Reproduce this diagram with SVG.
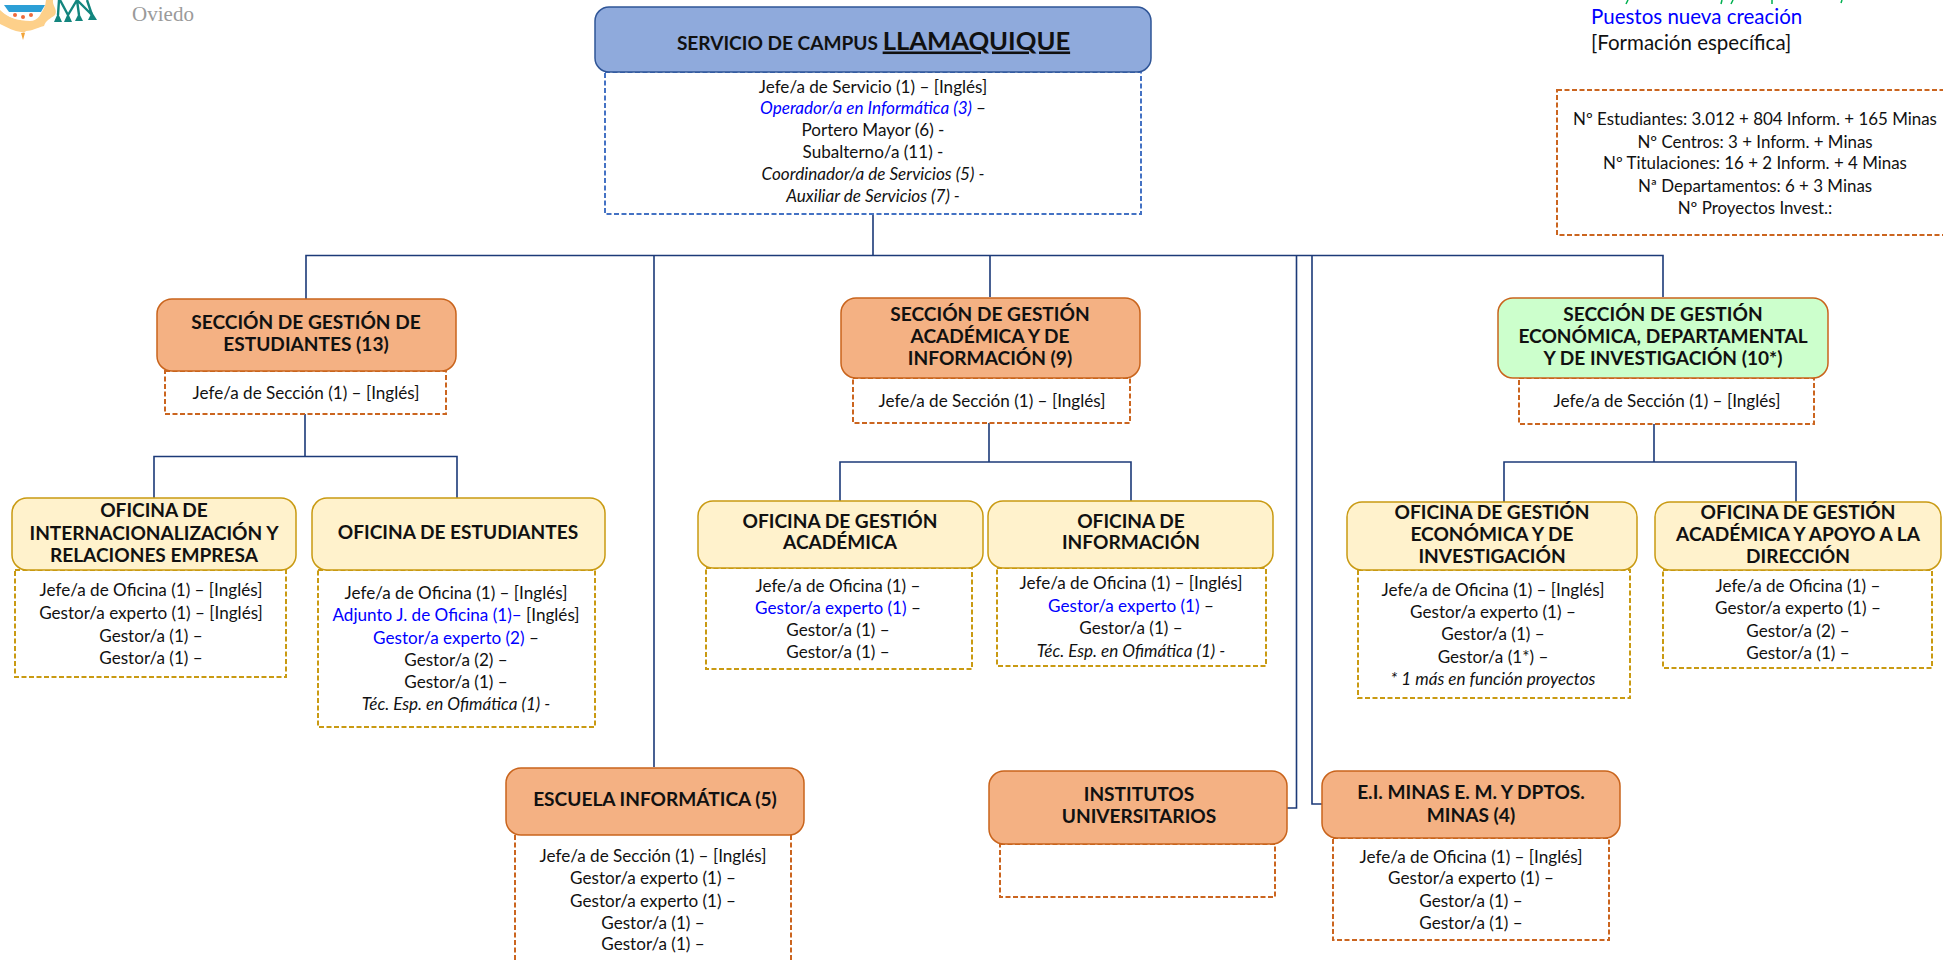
<svg xmlns="http://www.w3.org/2000/svg" width="1943" height="962" viewBox="0 0 1943 962">
<style>
text{font-family:Lato,"Liberation Sans",sans-serif;fill:#111;text-anchor:middle}
.b{font-size:17.1px}
.t{font-size:19.1px;font-weight:700}
.bl{fill:#0000ff}
.i{font-style:italic}
.c{fill:none;stroke:#1c3a78;stroke-width:1.6}
.d{fill:#fff;stroke-width:2;stroke-dasharray:5 2.5}
.dB{stroke:#4472c4}.dO{stroke:#cb651f}.dG{stroke:#c99a12}
.hM{fill:#8faadc;stroke:#2f5597;stroke-width:1.5}
.hS{fill:#f4b183;stroke:#c9641c;stroke-width:1.5}
.hV{fill:#ccffcc;stroke:#c9641c;stroke-width:1.5}
.hO{fill:#fff2cc;stroke:#c99a12;stroke-width:1.5}
</style>
<rect width="1943" height="962" fill="#fff"/>
<g id="logo">
<path d="M0 10 C8 17 18 21 30 21 C38 21 42 15 45 0 L53 0 C52 6 58 9 55 15 C50 19 46 20 44 26 C36 28 32 31 26 31 L24 33 L21 32 C14 31 8 28 0 24Z" fill="#fdd08a"/>
<path d="M0 0H46C45 12 38 19 24 20C13 20 4 15 0 9Z" fill="#fff"/>
<path d="M4 5H45L41 12H9Z" fill="#2c9fd6"/>
<circle cx="15" cy="15" r="2" fill="#ee6a3b"/><circle cx="23" cy="17" r="2" fill="#ee6a3b"/><circle cx="31" cy="15" r="2" fill="#ee6a3b"/>
<path d="M21 33H25L23 40Z" fill="#f2a53a"/>
<path d="M59 0L58 15M60 0L68 15M68 15L77 0M77 0L79 15M77 0L92 15M87 0L92 15" stroke="#13857e" stroke-width="2.4" fill="none"/>
<path d="M58 13L62 22H54ZM68 13L72 22H64ZM79 13L83 21H75ZM92 12L97 20H88Z" fill="#13857e"/>
<text x="163" y="21" style="font-family:'Liberation Serif',serif;font-size:21px;fill:#9a9a9a">Oviedo</text>
</g>
<g id="connectors" class="c">
<path class="c" d="M873 214V255.5M306 299V255.5H1663V297M654 255.5V767M990 255.5V297M1296.5 255.5V808H1287M1312 255.5V804H1322"/>
<path class="c" d="M305 414V456.5M154 498V456.5H457V498"/>
<path class="c" d="M989 423V462M840 501V462H1131V501"/>
<path class="c" d="M1654 424V462M1504 502V462H1796V502"/>
</g>
<g id="legend">
<path d="M1628 0l-2 4M1722 0l-1 4M1733 0l-2 4M1772 0v4M1842 0l-1 3" stroke="#00b050" stroke-width="1.5" fill="none"/>
<text x="1591" y="24" style="text-anchor:start;font-size:20.5px;fill:#0000ff">Puestos nueva creación</text>
<text x="1591" y="50" style="text-anchor:start;font-size:20.5px">[Formación específica]</text>
</g>
<g id="stats">
<rect class="d dO" x="1557" y="90" width="400" height="145"/>
<text class="b" x="1755" y="125" style="font-size:16.9px">Nº Estudiantes: 3.012 + 804 Inform. + 165 Minas</text>
<text class="b" x="1755" y="148" style="font-size:16.9px">Nº Centros: 3 + Inform. +  Minas</text>
<text class="b" x="1755" y="169" style="font-size:16.9px">Nº Titulaciones: 16 + 2 Inform. + 4 Minas</text>
<text class="b" x="1755" y="192" style="font-size:16.9px">Nª Departamentos: 6 + 3 Minas</text>
<text class="b" x="1755" y="214" style="font-size:16.9px">Nº Proyectos Invest.:</text>
</g>
<g id="servicio">
<rect class="d dB" x="605" y="72" width="536" height="142"/>
<rect class="hM" x="595" y="7" width="556" height="65" rx="14"/>
<text x="873.5" y="49.5" style="font-weight:700;font-size:19.1px">SERVICIO DE CAMPUS <tspan style="font-size:25.6px;text-decoration:underline">LLAMAQUIQUE</tspan></text>
<text class="b" x="873" y="93">Jefe/a de Servicio (1) – [Inglés]</text>
<text class="b" x="873" y="114"><tspan class="bl i">Operador/a en Informática (3) </tspan>–</text>
<text class="b" x="873" y="136">Portero Mayor (6) -</text>
<text class="b" x="873" y="158">Subalterno/a (11) -</text>
<text class="b i" x="873" y="180">Coordinador/a de Servicios (5) -</text>
<text class="b i" x="873" y="202">Auxiliar de Servicios (7) -</text>
</g>
<g id="sec-estudiantes">
<rect class="d dO" x="165" y="371" width="281" height="43"/>
<rect class="hS" x="157" y="299" width="299" height="72" rx="15"/>
<text class="t" x="306" y="329">SECCIÓN DE GESTIÓN DE</text>
<text class="t" x="306" y="351">ESTUDIANTES (13)</text>
<text class="b" x="306" y="399">Jefe/a de Sección (1) – [Inglés]</text>
</g>
<g id="of-internacional">
<rect class="d dG" x="15" y="570" width="271" height="107"/>
<rect class="hO" x="12" y="498" width="284" height="72" rx="15"/>
<text class="t" x="154" y="517">OFICINA DE</text>
<text class="t" x="154" y="540">INTERNACIONALIZACIÓN Y</text>
<text class="t" x="154" y="562">RELACIONES EMPRESA</text>
<text class="b" x="151" y="596">Jefe/a de Oficina (1) – [Inglés]</text>
<text class="b" x="151" y="619">Gestor/a experto (1) – [Inglés]</text>
<text class="b" x="151" y="642">Gestor/a (1) –</text>
<text class="b" x="151" y="664">Gestor/a (1) –</text>
</g>
<g id="of-estudiantes">
<rect class="d dG" x="318" y="570" width="277" height="157"/>
<rect class="hO" x="312" y="498" width="293" height="72" rx="15"/>
<text class="t" x="458" y="539">OFICINA DE ESTUDIANTES</text>
<text class="b" x="456" y="599">Jefe/a de Oficina (1) – [Inglés]</text>
<text class="b" x="456" y="621"><tspan class="bl">Adjunto J. de Oficina (1)– </tspan>[Inglés]</text>
<text class="b" x="456" y="644"><tspan class="bl">Gestor/a experto (2) </tspan>–</text>
<text class="b" x="456" y="666">Gestor/a (2) –</text>
<text class="b" x="456" y="688">Gestor/a (1) –</text>
<text class="b i" x="456" y="710">Téc. Esp. en Ofimática (1) -</text>
</g>
<g id="sec-academica">
<rect class="d dO" x="853" y="378" width="277" height="45"/>
<rect class="hS" x="841" y="298" width="299" height="80" rx="15"/>
<text class="t" x="990" y="321">SECCIÓN DE GESTIÓN</text>
<text class="t" x="990" y="343">ACADÉMICA Y DE</text>
<text class="t" x="990" y="365">INFORMACIÓN (9)</text>
<text class="b" x="992" y="407">Jefe/a de Sección (1) – [Inglés]</text>
</g>
<g id="of-academica">
<rect class="d dG" x="706" y="568" width="266" height="101"/>
<rect class="hO" x="698" y="501" width="285" height="67" rx="15"/>
<text class="t" x="840" y="528">OFICINA DE GESTIÓN</text>
<text class="t" x="840" y="549">ACADÉMICA</text>
<text class="b" x="838" y="592">Jefe/a de Oficina (1) –</text>
<text class="b" x="838" y="614"><tspan class="bl">Gestor/a experto (1) </tspan>–</text>
<text class="b" x="838" y="636">Gestor/a (1) –</text>
<text class="b" x="838" y="658">Gestor/a (1) –</text>
</g>
<g id="of-informacion">
<rect class="d dG" x="997" y="568" width="269" height="98"/>
<rect class="hO" x="988" y="501" width="285" height="67" rx="15"/>
<text class="t" x="1131" y="528">OFICINA DE</text>
<text class="t" x="1131" y="549">INFORMACIÓN</text>
<text class="b" x="1131" y="589">Jefe/a de Oficina (1) – [Inglés]</text>
<text class="b" x="1131" y="612"><tspan class="bl">Gestor/a experto (1) </tspan>–</text>
<text class="b" x="1131" y="634">Gestor/a (1) –</text>
<text class="b i" x="1131" y="657">Téc. Esp. en Ofimática (1) -</text>
</g>
<g id="sec-economica">
<rect class="d dO" x="1519" y="378" width="295" height="46"/>
<rect class="hV" x="1498" y="298" width="330" height="80" rx="15"/>
<text class="t" x="1663" y="321">SECCIÓN DE GESTIÓN</text>
<text class="t" x="1663" y="343">ECONÓMICA, DEPARTAMENTAL</text>
<text class="t" x="1663" y="365">Y DE INVESTIGACIÓN (10*)</text>
<text class="b" x="1667" y="407">Jefe/a de Sección (1) – [Inglés]</text>
</g>
<g id="of-economica">
<rect class="d dG" x="1358" y="570" width="272" height="128"/>
<rect class="hO" x="1347" y="502" width="290" height="68" rx="15"/>
<text class="t" x="1492" y="519">OFICINA DE GESTIÓN</text>
<text class="t" x="1492" y="541">ECONÓMICA Y DE</text>
<text class="t" x="1492" y="563">INVESTIGACIÓN</text>
<text class="b" x="1493" y="596">Jefe/a de Oficina (1) – [Inglés]</text>
<text class="b" x="1493" y="618">Gestor/a experto (1) –</text>
<text class="b" x="1493" y="640">Gestor/a (1) –</text>
<text class="b" x="1493" y="663">Gestor/a (1*) –</text>
<text class="b i" x="1493" y="685">* 1 más en función proyectos</text>
</g>
<g id="of-apoyo">
<rect class="d dG" x="1663" y="570" width="269" height="98"/>
<rect class="hO" x="1655" y="502" width="286" height="68" rx="15"/>
<text class="t" x="1798" y="519">OFICINA DE GESTIÓN</text>
<text class="t" x="1798" y="541">ACADÉMICA Y APOYO A LA</text>
<text class="t" x="1798" y="563">DIRECCIÓN</text>
<text class="b" x="1798" y="592">Jefe/a de Oficina (1) –</text>
<text class="b" x="1798" y="614">Gestor/a experto (1) –</text>
<text class="b" x="1798" y="637">Gestor/a (2) –</text>
<text class="b" x="1798" y="659">Gestor/a (1) –</text>
</g>
<g id="escuela">
<path class="d dO" d="M515 835V962M791 835V962" style="fill:none"/>
<rect class="hS" x="506" y="768" width="298" height="67" rx="15"/>
<text class="t" x="655" y="806">ESCUELA INFORMÁTICA (5)</text>
<text class="b" x="653" y="862">Jefe/a de Sección (1) – [Inglés]</text>
<text class="b" x="653" y="884">Gestor/a experto (1) –</text>
<text class="b" x="653" y="907">Gestor/a experto (1) –</text>
<text class="b" x="653" y="929">Gestor/a (1) –</text>
<text class="b" x="653" y="950">Gestor/a (1) –</text>
</g>
<g id="institutos">
<rect class="d dO" x="1000" y="844" width="275" height="53"/>
<rect class="hS" x="989" y="771" width="298" height="73" rx="15"/>
<text class="t" x="1139" y="801">INSTITUTOS</text>
<text class="t" x="1139" y="823">UNIVERSITARIOS</text>
</g>
<g id="minas">
<rect class="d dO" x="1333" y="838" width="276" height="102"/>
<rect class="hS" x="1322" y="771" width="298" height="67" rx="15"/>
<text class="t" x="1471" y="799">E.I. MINAS E. M. Y DPTOS.</text>
<text class="t" x="1471" y="822">MINAS (4)</text>
<text class="b" x="1471" y="863">Jefe/a de Oficina (1) – [Inglés]</text>
<text class="b" x="1471" y="884">Gestor/a experto (1) –</text>
<text class="b" x="1471" y="907">Gestor/a (1) –</text>
<text class="b" x="1471" y="929">Gestor/a (1) –</text>
</g>
</svg>
